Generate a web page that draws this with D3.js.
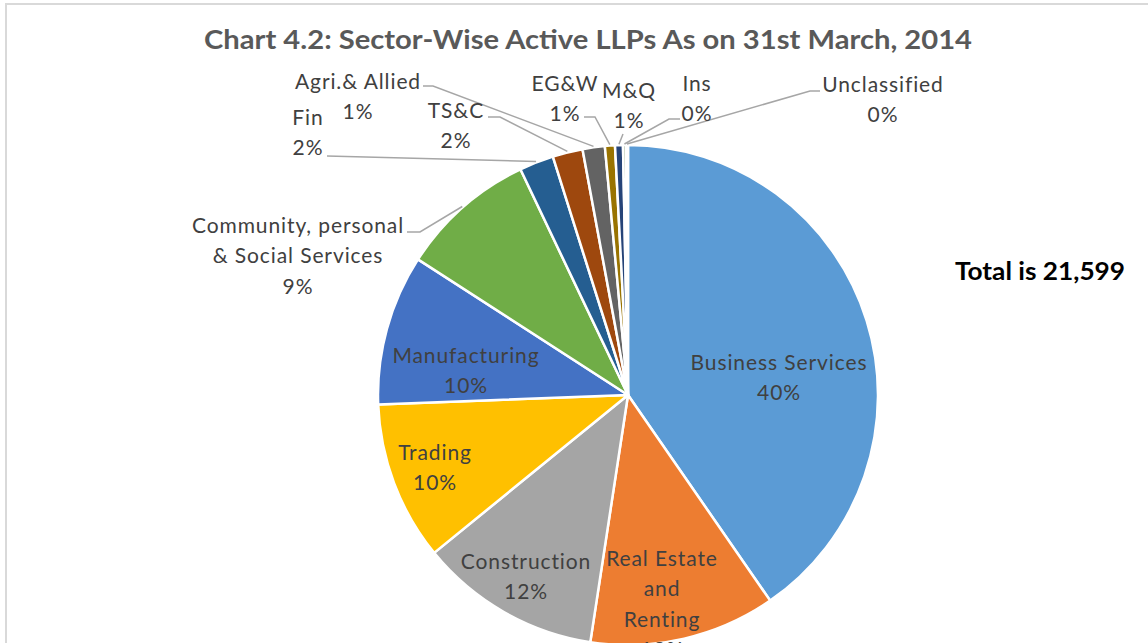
<!DOCTYPE html>
<html lang="en">
<head>
  <meta charset="UTF-8">
  <title>Chart 4.2</title>
  <script src="https://d3js.org/d3.v7.min.js"></script>
  <style>
    html, body { margin: 0; padding: 0; background: #fff; }
    svg text { font-family: "Lato", "Open Sans", sans-serif; }
  </style>
</head>
<body>
  <div id="chart"></div>
  <script>
  // sector-wise active LLPs (counts, total 21,599)
  var sectors = ["Business Services", "Real Estate and Renting", "Construction", "Trading",
                 "Manufacturing", "Community, personal & Social Services", "Fin", "TS&C",
                 "Agri.& Allied", "EG&W", "M&Q", "Ins", "Unclassified"];
  var counts = [8720, 2600, 2530, 2220, 2100, 1900, 480, 420, 310, 140, 110, 40, 29];
  var colors = ["#5B9BD5", "#ED7D31", "#A5A5A5", "#FFC000", "#4472C4", "#70AD47", "#255E91",
                "#9E480E", "#636363", "#997300", "#264478", "#43682B", "#698ED0"];
  // how each label breaks into lines
  var labelLines = [["Business Services"], ["Real Estate", "and", "Renting"], ["Construction"],
                    ["Trading"], ["Manufacturing"], ["Community, personal", "& Social Services"],
                    ["Fin"], ["TS&C"], ["Agri.& Allied"], ["EG&W"], ["M&Q"], ["Ins"], ["Unclassified"]];
  var totalText = "Total is 21,599";

  var W = 1148, H = 643;
  var cx = 628, cy = 395, R = 250;

  // label block placement: centre x, first line centre y, leader start points (outside labels)
  var layout = [
    {x: 779, y: 361},
    {x: 662, y: 557},
    {x: 526, y: 560},
    {x: 435, y: 451},
    {x: 466, y: 354},
    {x: 298, y: 224, lead: [[407, 232], [420, 232]]},
    {x: 308, y: 116, lead: [[327, 156]]},
    {x: 456, y: 109, lead: [[488, 117], [500, 117]]},
    {x: 358, y: 80,  lead: [[423, 86], [433, 86]]},
    {x: 565, y: 82,  lead: [[584, 117], [595, 117]]},
    {x: 629, y: 89,  lead: [[623, 134]]},
    {x: 697, y: 82,  lead: [[680, 119], [669, 119]]},
    {x: 883, y: 83,  lead: [[820, 91], [810, 91]]}
  ];
  var lineH = 30.5;

  var data = sectors.map(function(s, i) { return {name: s, value: counts[i], i: i}; });
  var total = d3.sum(counts);
  var fmt = d3.format(".0%");

  var svg = d3.select("#chart").append("svg")
    .attr("width", W).attr("height", H);

  // chart frame
  svg.append("rect")
    .attr("x", 6).attr("y", 4)
    .attr("width", W + 20).attr("height", H + 20)
    .attr("fill", "none").attr("stroke", "#d9d9d9").attr("stroke-width", 2);

  svg.append("text")
    .attr("x", 588).attr("y", 38)
    .attr("text-anchor", "middle").attr("dominant-baseline", "central")
    .attr("font-size", 27).attr("font-weight", 700).attr("fill", "#595959")
    .attr("textLength", 768).attr("lengthAdjust", "spacingAndGlyphs")
    .text("Chart 4.2: Sector-Wise Active LLPs As on 31st March, 2014");

  var pie = d3.pie().sort(null).value(function(d) { return d.value; });
  var arc = d3.arc().innerRadius(0).outerRadius(R);
  var arcs = pie(data);

  var g = svg.append("g").attr("transform", "translate(" + cx + "," + cy + ")");

  g.selectAll("path.slice")
    .data(arcs)
    .enter()
    .append("path")
    .attr("class", "slice")
    .attr("d", arc)
    .attr("fill", function(d) { return colors[d.data.i]; })
    .attr("stroke", "#fff")
    .attr("stroke-width", 2.5)
    .attr("stroke-linejoin", "round");

  // leader lines for the small outside labels
  arcs.forEach(function(d) {
    var L = layout[d.data.i];
    if (!L.lead) return;
    var a = (d.startAngle + d.endAngle) / 2;
    var end = [cx + (R + 1) * Math.sin(a), cy - (R + 1) * Math.cos(a)];
    svg.append("polyline")
      .attr("points", L.lead.concat([end]).map(function(p) { return p.join(","); }).join(" "))
      .attr("fill", "none").attr("stroke", "#a6a6a6").attr("stroke-width", 1.5);
  });

  // data labels: category name + percentage
  arcs.forEach(function(d) {
    var L = layout[d.data.i];
    var lines = labelLines[d.data.i].concat([fmt(d.data.value / total)]);
    var t = svg.append("text")
      .attr("text-anchor", "middle")
      .attr("font-size", 21)
      .attr("letter-spacing", 0.9)
      .attr("fill", "#404040");
    lines.forEach(function(s, k) {
      t.append("tspan")
        .attr("x", L.x)
        .attr("y", L.y + k * lineH)
        .attr("dominant-baseline", "central")
        .text(s);
    });
  });

  svg.append("text")
    .attr("x", 1040).attr("y", 270)
    .attr("text-anchor", "middle").attr("dominant-baseline", "central")
    .attr("font-size", 25).attr("font-weight", 700).attr("fill", "#000")
    .attr("textLength", 170).attr("lengthAdjust", "spacingAndGlyphs")
    .text(totalText);
  </script>
</body>
</html>
